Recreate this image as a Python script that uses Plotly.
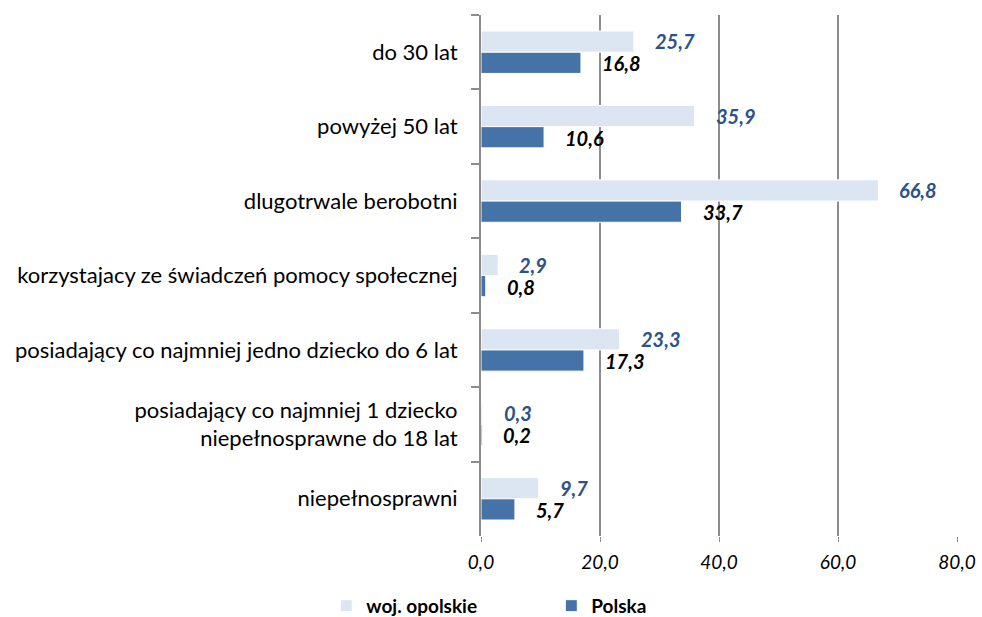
import plotly.graph_objects as go

categories = [
    "do 30 lat",
    "powyżej 50 lat",
    "dlugotrwale berobotni",
    "korzystajacy ze świadczeń pomocy społecznej",
    "posiadający co najmniej jedno dziecko do 6 lat",
    "posiadający co najmniej 1 dziecko<br>niepełnosprawne do 18 lat",
    "niepełnosprawni",
]
opolskie = [25.7, 35.9, 66.8, 2.9, 23.3, 0.3, 9.7]
polska = [16.8, 10.6, 33.7, 0.8, 17.3, 0.2, 5.7]
x_ticks = [0, 20, 40, 60, 80]

FONT = "Lato"
c_light = "#DCE6F2"
c_dark = "#4673A7"
c_lab = "#2A5388"

def fmt(v):
    return f"{v:.1f}".replace(".", ",")

fig = go.Figure()
fig.add_trace(go.Bar(y=categories, x=opolskie, orientation="h", name="woj. opolskie",
                     marker=dict(color=c_light, line=dict(color="white", width=1))))
fig.add_trace(go.Bar(y=categories, x=polska, orientation="h", name="Polska",
                     marker=dict(color=c_dark, line=dict(color="white", width=1))))

ann = []
for c, v in zip(categories, opolskie):
    ann.append(dict(x=v, y=c, text=fmt(v), xanchor="left", yanchor="middle", showarrow=False,
                    xshift=19, yshift=11,
                    font=dict(family=FONT, size=20, color=c_lab, weight="bold", style="italic")))
for c, v in zip(categories, polska):
    ann.append(dict(x=v, y=c, text=fmt(v), xanchor="left", yanchor="middle", showarrow=False,
                    xshift=19, yshift=-11,
                    font=dict(family=FONT, size=20, color="black", weight="bold", style="italic")))

fig.update_layout(
    width=982, height=617,
    margin=dict(l=481, r=25, t=15, b=81, autoexpand=False),
    paper_bgcolor="white", plot_bgcolor="white",
    barmode="group", bargap=0.43, bargroupgap=0,
    separators=", ",
    annotations=ann,
    font=dict(family=FONT, size=17, color="black"),
    legend=dict(orientation="h", x=-0.325, xanchor="left", xref="paper",
                y=-0.134, yanchor="middle", yref="paper",
                entrywidth=180, entrywidthmode="pixels",
                font=dict(family=FONT, size=19, color="black", weight="bold"),
                itemwidth=30),
    showlegend=True,
)
fig.update_xaxes(range=[0, 80], tickvals=x_ticks, ticktext=[fmt(t) for t in x_ticks],
                 showgrid=True, gridcolor="#8C8C8C", gridwidth=2, zeroline=False,
                 showline=False, ticks="outside", ticklen=5, tickcolor="#8C8C8C",
                 ticklabeloverflow="allow",
                 tickfont=dict(family=FONT, size=19, style="italic"), ticklabelstandoff=4)
fig.update_yaxes(autorange="reversed", showline=True, linecolor="#8C8C8C", linewidth=2,
                 ticks="outside", tickson="boundaries", ticklen=8, tickcolor="#8C8C8C",
                 tickwidth=2, showgrid=False, ticklabelstandoff=17,
                 tickfont=dict(family=FONT, size=22))

# remove the default 8px page margin so the 982x617 figure fills the window exactly
fig.write_html("out.html", config={"displayModeBar": False},
               post_script="document.body.style.margin='0';document.body.style.overflow='hidden';")
